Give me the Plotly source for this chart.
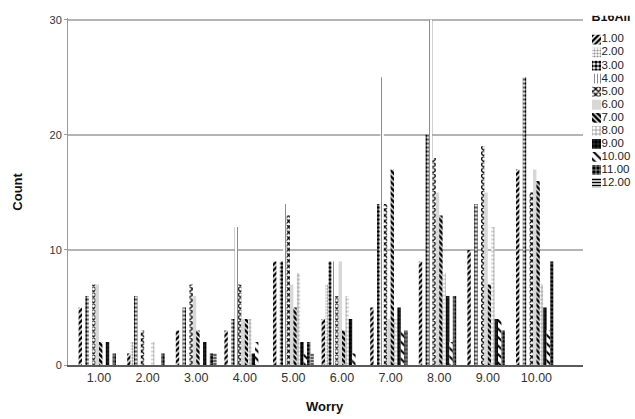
import plotly.graph_objects as go

# ---- data ----
worry_labels = ["1.00", "2.00", "3.00", "4.00", "5.00", "6.00", "7.00", "8.00", "9.00", "10.00"]
worry_pos = [1, 2, 3, 4, 5, 6, 7, 8, 9, 10]
series_names = ["1.00", "2.00", "3.00", "4.00", "5.00", "6.00",
                "7.00", "8.00", "9.00", "10.00", "11.00", "12.00"]

b16_01 = [5, 1, 3, 3, 9, 4, 5, 9, 10, 17]
b16_02 = [0, 2, 0, 0, 0, 7, 0, 0, 0, 0]
b16_03 = [6, 6, 5, 4, 9, 9, 14, 20, 14, 25]
b16_04 = [0, 0, 0, 12, 14, 9, 25, 30, 0, 0]
b16_05 = [7, 3, 7, 7, 13, 6, 14, 18, 19, 15]
b16_06 = [7, 0, 6, 4, 7, 9, 4, 15, 15, 17]
b16_07 = [2, 0, 3, 4, 5, 3, 17, 13, 7, 16]
b16_08 = [0, 2, 0, 4, 8, 6, 4, 8, 12, 7]
b16_09 = [2, 0, 2, 1, 2, 4, 5, 6, 4, 5]
b16_10 = [0, 0, 0, 2, 1, 1, 3, 2, 4, 3]
b16_11 = [1, 1, 1, 0, 2, 0, 3, 6, 3, 9]
b16_12 = [0, 0, 1, 0, 1, 0, 0, 0, 0, 0]

y_ticks = [0, 10, 20, 30]
legend_title = "B16All"
x_title = "Worry"
y_title = "Count"

series_values = [b16_01, b16_02, b16_03, b16_04, b16_05, b16_06,
                 b16_07, b16_08, b16_09, b16_10, b16_11, b16_12]

# ---- styles (pattern per series) ----
styles = [
    dict(shape="/", fg="#000000", bg="#ffffff", size=4, sol=0.6),
    dict(shape=".", fg="#8a8a8a", bg="#ffffff", size=3, sol=0.4),
    dict(shape=".", fg="#000000", bg="#ffffff", size=4, sol=0.65),
    dict(shape="|", fg="#8c8c8c", bg="#ffffff", size=3, sol=0.35),
    dict(shape="x", fg="#000000", bg="#ffffff", size=4, sol=0.55),
    dict(shape=".", fg="#a8a8a8", bg="#ffffff", size=2, sol=0.5),
    dict(shape="\\", fg="#000000", bg="#ffffff", size=4, sol=0.65),
    dict(shape="+", fg="#8a8a8a", bg="#ffffff", size=4, sol=0.35),
    dict(shape=".", fg="#000000", bg="#2a2a2a", size=4, sol=0.6),
    dict(shape="\\", fg="#000000", bg="#ffffff", size=6, sol=0.35),
    dict(shape="+", fg="#ffffff", bg="#000000", size=4, sol=0.25),
    dict(shape="-", fg="#000000", bg="#ffffff", size=3, sol=0.5),
]

FONT = "Liberation Sans, Arial, sans-serif"
W, H = 635, 419
ML, MR, MT, MB = 68, 2, 0, 53.5
PW = W - ML - MR
PH = H - MT - MB
plot_right = 583
px_per_count = (365.5 - 16) / 30.0
y_top = 30.2
plot_top = 365.5 - y_top * px_per_count


def pat(st):
    return dict(shape=st["shape"], fgcolor=st["fg"], bgcolor=st["bg"],
                size=st["size"], solidity=st["sol"], fillmode="replace")


fig = go.Figure()

for name, vals, st in zip(series_names, series_values, styles):
    fig.add_trace(go.Bar(
        x=worry_pos, y=vals, name=name, showlegend=False,
        marker=dict(color=st["bg"], line=dict(width=0), pattern=pat(st)),
        xaxis="x", yaxis="y",
    ))

# ---- custom legend (icons as tiny horizontal bars in a side subplot) ----
for i, (name, st) in enumerate(zip(series_names, styles)):
    fig.add_trace(go.Bar(
        y=[i], x=[9], base=[2], orientation="h", width=0.75,
        showlegend=False, hoverinfo="skip",
        marker=dict(color=st["bg"], line=dict(width=0), pattern=pat(st)),
        xaxis="x2", yaxis="y2",
    ))
fig.add_trace(go.Scatter(
    y=list(range(len(series_names))), x=[11.5] * len(series_names), mode="text", text=series_names,
    textposition="middle right", textfont=dict(family=FONT, size=11.5, color="#222222"),
    showlegend=False, hoverinfo="skip", cliponaxis=False,
    xaxis="x2", yaxis="y2",
))
fig.add_trace(go.Scatter(
    y=[-1.67], x=[1.5], mode="text", text=["<b>" + legend_title + "</b>"],
    textposition="middle right", textfont=dict(family=FONT, size=12.5, color="#111111"),
    showlegend=False, hoverinfo="skip", cliponaxis=False,
    xaxis="x2", yaxis="y2",
))

px_per_unit = 48.6
first_center = 99
x_lo = 1 - (first_center - ML) / px_per_unit
x_hi = 1 + (plot_right - first_center) / px_per_unit

leg_top_px, leg_step = 36, 13.2
leg_bottom_px = 195

fig.update_layout(
    width=W, height=H,
    margin=dict(l=ML, r=MR, t=MT, b=MB),
    paper_bgcolor="white", plot_bgcolor="white",
    barmode="group", bargap=0.16, bargroupgap=0.0,
    font=dict(family=FONT, size=12, color="#333333"),
    xaxis=dict(domain=[0, (plot_right - ML) / PW], range=[x_lo, x_hi],
               tickmode="array", tickvals=worry_pos, ticktext=worry_labels,
               showgrid=False, zeroline=False, showline=True, linecolor="#5a5a5a", linewidth=1.5,
               ticks="", tickfont=dict(family=FONT, size=12.5, color="#333333")),
    yaxis=dict(domain=[0, (PH - plot_top) / PH], range=[0, y_top],
               tickmode="array", tickvals=y_ticks,
               showgrid=True, gridcolor="#b4b4b4", gridwidth=1.5, zeroline=False,
               showline=True, linecolor="#9a9a9a", linewidth=1,
               ticks="outside", ticklen=3, tickcolor="#9a9a9a",
               tickfont=dict(family=FONT, size=11, color="#333333")),
    xaxis2=dict(domain=[(590 - ML) / PW, 1], range=[0, 43], visible=False, fixedrange=True),
    yaxis2=dict(domain=[(PH - leg_bottom_px) / PH, 1],
                range=[(leg_bottom_px - leg_top_px) / leg_step, -leg_top_px / leg_step],
                visible=False, fixedrange=True),
    shapes=[dict(type="rect", xref="paper", yref="paper", layer="above",
                 x0=(585 - ML) / PW, x1=1.02, y0=(PH - 12) / PH, y1=1.05,
                 fillcolor="white", line=dict(width=0))],
    annotations=[
        dict(text="<b>" + y_title + "</b>", xref="paper", yref="paper",
             x=(18 - ML) / PW, y=(PH - 190) / PH, textangle=-90, showarrow=False,
             font=dict(family=FONT, size=13, color="#111111"), xanchor="center", yanchor="middle"),
        dict(text="<b>" + x_title + "</b>", xref="paper", yref="paper",
             x=(325 - ML) / PW, y=-(408 - PH) / PH, showarrow=False,
             font=dict(family=FONT, size=13, color="#111111"), xanchor="center", yanchor="middle"),
    ],
)

fig.write_html("out.html", config={"displayModeBar": False},
               post_script="document.body.style.margin='0';")
